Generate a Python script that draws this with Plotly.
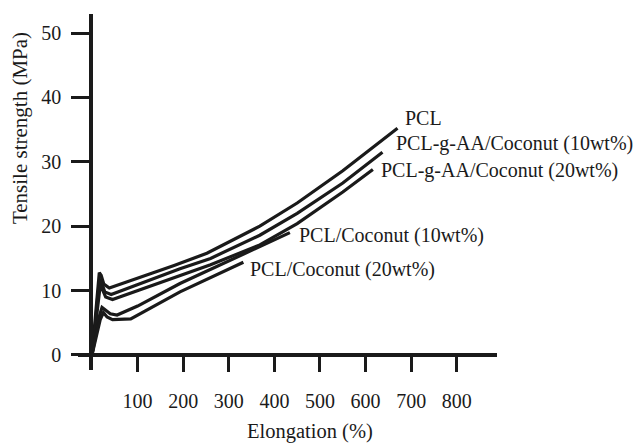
import plotly.graph_objects as go

# ---- data (Elongation %, Tensile strength MPa) ----
pcl_x = [0, 6, 12, 16, 20, 26, 38, 100, 180, 252, 368, 450, 550, 670]
pcl_y = [0, 5, 10.5, 12.8, 12.4, 11.0, 10.4, 11.9, 13.9, 15.8, 20.0, 23.6, 28.6, 35.2]

gaa10_x = [0, 7, 13, 17, 22, 28, 42, 100, 193, 260, 368, 450, 550, 637]
gaa10_y = [0, 4.5, 9.5, 11.8, 11.0, 9.8, 9.4, 10.9, 13.4, 15.0, 18.6, 22.0, 26.7, 31.5]

gaa20_x = [0, 7, 14, 18, 24, 30, 45, 100, 193, 260, 368, 450, 550, 616]
gaa20_y = [0, 4, 8.8, 10.8, 10.0, 9.0, 8.6, 10.0, 12.3, 14.0, 17.1, 20.4, 25.3, 28.8]

c10_x = [0, 8, 16, 22, 30, 40, 55, 100, 193, 300, 434]
c10_y = [0, 3, 6, 7.4, 6.9, 6.4, 6.2, 7.6, 11.1, 14.6, 19.0]

c20_x = [0, 8, 18, 25, 33, 45, 85, 193, 332]
c20_y = [0, 2.5, 5.5, 6.6, 5.9, 5.5, 5.6, 9.8, 14.4]

series_names = ["PCL", "PCL-g-AA/Coconut (10wt%)", "PCL-g-AA/Coconut (20wt%)",
                "PCL/Coconut (10wt%)", "PCL/Coconut (20wt%)"]
series_x = [pcl_x, gaa10_x, gaa20_x, c10_x, c20_x]
series_y = [pcl_y, gaa10_y, gaa20_y, c10_y, c20_y]

# label anchor points (data coords)
label_x = [682, 662, 629, 450, 342]
label_y = [36.8, 32.9, 28.7, 18.6, 13.2]

x_ticks = [100, 200, 300, 400, 500, 600, 700, 800]
y_ticks = [0, 10, 20, 30, 40, 50]

FONT = "Liberation Serif"
INK = "#1a1a1a"

fig = go.Figure()
for xs, ys, nm in zip(series_x, series_y, series_names):
    fig.add_trace(go.Scatter(x=xs, y=ys, mode="lines", name=nm,
                             line=dict(color=INK, width=3.2), showlegend=False))

for nm, lx, ly in zip(series_names, label_x, label_y):
    fig.add_annotation(x=lx, y=ly, text=nm, showarrow=False, xanchor="left",
                       yanchor="middle", font=dict(family=FONT, size=20, color=INK))

fig.add_annotation(xref="paper", yref="paper", x=-0.138, y=0.68,
                   text="Tensile strength (MPa)", textangle=-90, showarrow=False,
                   xanchor="center", yanchor="middle",
                   font=dict(family=FONT, size=21, color=INK))
fig.add_annotation(xref="paper", yref="paper", x=0.554, y=-0.174,
                   text="Elongation (%)", showarrow=False,
                   xanchor="center", yanchor="middle",
                   font=dict(family=FONT, size=20.5, color=INK))

fig.update_layout(
    width=640, height=444,
    margin=dict(l=78, r=143, t=14, b=74),
    paper_bgcolor="white", plot_bgcolor="white",
    xaxis=dict(range=[-30.7, 888.2], tickvals=x_ticks, ticks="outside", ticklen=15,
               tickwidth=3, tickcolor=INK, showline=True, linewidth=3.5, linecolor=INK,
               showgrid=False, zeroline=False, anchor="free", position=0.0421,
               ticklabelstandoff=12,
               tickfont=dict(family=FONT, size=20, color=INK)),
    yaxis=dict(range=[-2.33, 52.95], tickvals=y_ticks, ticks="outside", ticklen=18,
               tickwidth=3, tickcolor=INK, showline=True, linewidth=3.5, linecolor=INK,
               showgrid=False, zeroline=False, anchor="free", position=0.031,
               ticklabelstandoff=6,
               tickfont=dict(family=FONT, size=20, color=INK)),
)

fig.write_html("out.html")
